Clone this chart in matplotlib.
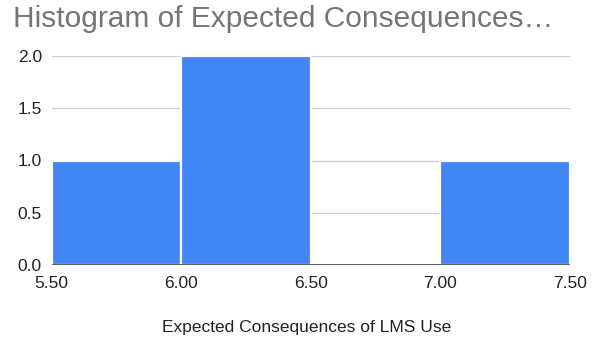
import numpy as np
import matplotlib.pyplot as plt

# histogram bins and counts
bin_edges = [5.50, 6.00, 6.50, 7.00, 7.50]
counts = [1, 2, 0, 1]
y_ticks = [0.0, 0.5, 1.0, 1.5, 2.0]
x_tick_labels = ["5.50", "6.00", "6.50", "7.00", "7.50"]

title_text = "Histogram of Expected Consequences\u2026"
x_label = "Expected Consequences of LMS Use"

plt.rcParams['font.family'] = ['Liberation Sans', 'DejaVu Sans']

W, H = 597, 341
fig = plt.figure(figsize=(W / 100, H / 100), dpi=100)
ax = fig.add_axes([51.7 / W, 1 - 265 / H, (570 - 51.7) / W, (265 - 56) / H])

lefts = np.array(bin_edges[:-1])
widths = np.diff(bin_edges)
ax.bar(lefts, counts, width=widths, align='edge', color='#4285F4',
       edgecolor='white', linewidth=1.6, zorder=2)

ax.set_xlim(bin_edges[0], bin_edges[-1])
ax.set_ylim(0, 2)
ax.set_xticks(bin_edges)
ax.set_xticklabels(x_tick_labels)
ax.set_yticks(y_ticks)
ax.set_yticklabels([f"{v:.1f}" for v in y_ticks])

for v in y_ticks[1:]:
    ax.axhline(v, color='#cccccc', linewidth=0.9, zorder=1)
ax.axhline(0, color='#333333', linewidth=1.1, zorder=3)

for side in ['top', 'right', 'left', 'bottom']:
    ax.spines[side].set_visible(False)
ax.tick_params(axis='both', length=0, labelsize=12.5, colors='#222222')
ax.tick_params(axis='y', pad=7)
ax.tick_params(axis='x', pad=8)

fig.text(12.5 / W, 1 - 27 / H, title_text, fontsize=21.5, color='#757575',
         ha='left', va='baseline')
fig.text(307 / W, 1 - 332 / H, x_label, fontsize=12.5,
         color='#222222', ha='center', va='baseline')

fig.savefig('out.png', dpi=100)
